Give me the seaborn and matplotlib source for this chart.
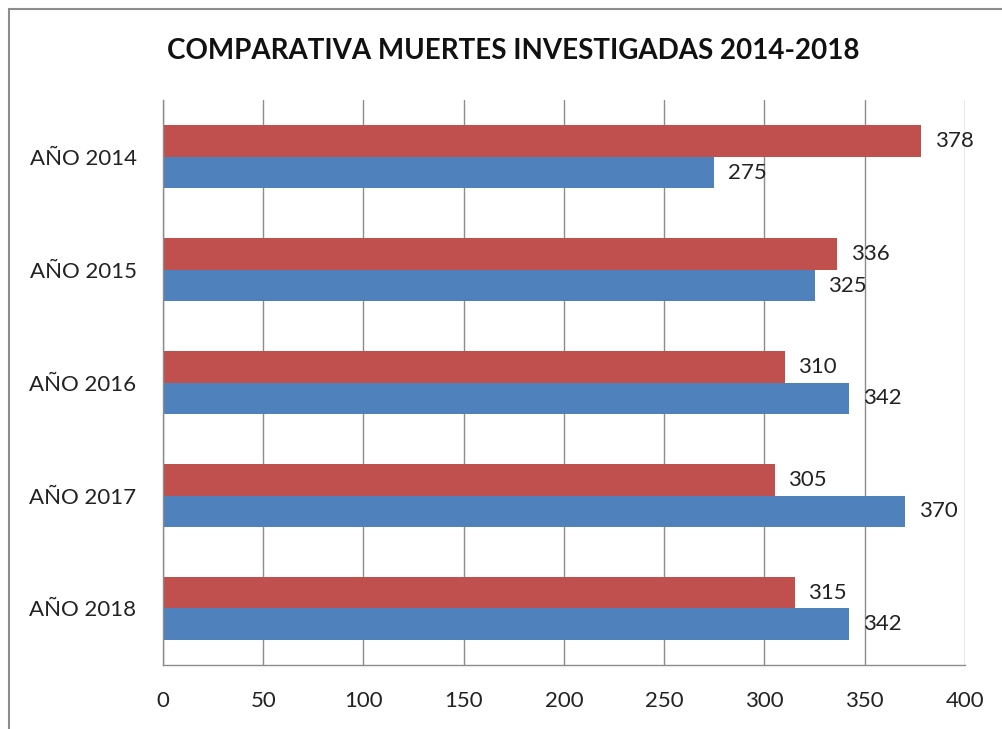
import pandas as pd
import matplotlib
matplotlib.use("Agg")
import matplotlib.pyplot as plt
from matplotlib.patches import Rectangle
import seaborn as sns

# Datos
anios = ["AÑO 2014", "AÑO 2015", "AÑO 2016", "AÑO 2017", "AÑO 2018"]
serie_roja = [378, 336, 310, 305, 315]
serie_azul = [275, 325, 342, 370, 342]
ticks_x = [0, 50, 100, 150, 200, 250, 300, 350, 400]

df = pd.DataFrame({
    "anio": anios * 2,
    "serie": ["Serie 2"] * len(anios) + ["Serie 1"] * len(anios),
    "valor": serie_roja + serie_azul,
})

sns.set_theme(style="white")
plt.rcParams["font.family"] = ["Lato", "DejaVu Sans"]

fig = plt.figure(figsize=(10.03, 7.29), dpi=100)
ax = fig.add_axes([0.1625, 0.0878, 0.7996, 0.775])

sns.barplot(data=df, y="anio", x="valor", hue="serie",
            hue_order=["Serie 2", "Serie 1"], order=anios,
            palette=["#C0504D", "#4F81BD"], orient="h",
            width=0.566, gap=0, saturation=1, linewidth=0,
            legend=False, ax=ax)

for cont in ax.containers:
    ax.bar_label(cont, padding=10, fontsize=16, color="#222222")

ax.set_xlim(0, 400)
ax.set_ylim(4.5, -0.5)
ax.set_xticks(ticks_x)
ax.set_xlabel("")
ax.set_ylabel("")
ax.grid(axis="x", color="#8c8c8c", linewidth=1)
ax.set_axisbelow(True)
ax.tick_params(axis="both", length=0, labelsize=16, colors="#222222")
ax.tick_params(axis="x", pad=19)
ax.tick_params(axis="y", pad=19)
for s in ["top", "right"]:
    ax.spines[s].set_visible(False)
for s in ["left", "bottom"]:
    ax.spines[s].set_color("#8c8c8c")
    ax.spines[s].set_linewidth(1)

fig.text(0.512, 0.93, "COMPARATIVA MUERTES INVESTIGADAS 2014-2018",
         ha="center", va="center", fontsize=20, fontweight="bold",
         color="#111111")

# Borde del area del grafico (recortado a la derecha y abajo)
fig.patches.append(Rectangle((9 / 1003, -0.1), 1.2, 0.1 + 1 - 9 / 729,
                             transform=fig.transFigure, fill=False,
                             edgecolor="#8c8c8c", linewidth=1.5))

fig.savefig("out.png", dpi=100)
